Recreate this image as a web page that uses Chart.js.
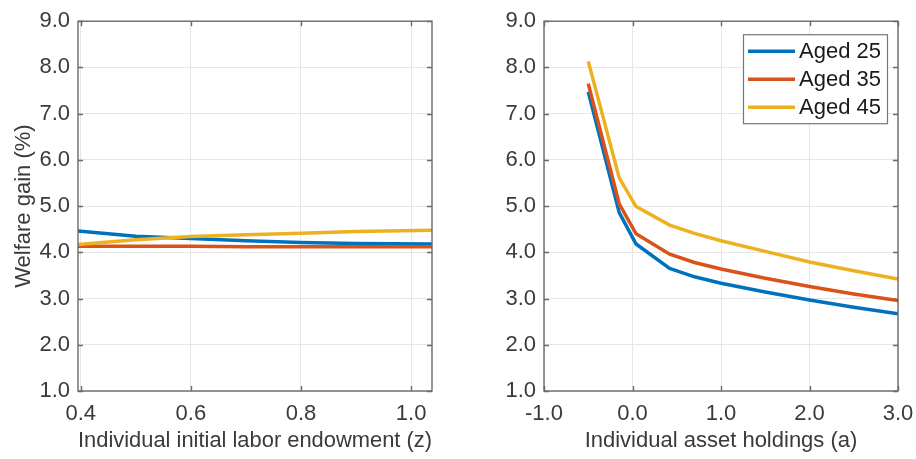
<!DOCTYPE html>
<html>
<head>
<meta charset="utf-8">
<script src="https://cdn.jsdelivr.net/npm/chart.js@4.4.0/dist/chart.umd.min.js"></script>
<style>
  html, body { margin: 0; padding: 0; background: #fff; overflow: hidden; }
  #wrap { position: relative; width: 916px; height: 459px; }
  .panel { position: absolute; top: 0; width: 458px; height: 459px; }
</style>
</head>
<body>
<div id="wrap">
  <div class="panel" style="left:0"><canvas id="leftChart"></canvas></div>
  <div class="panel" style="left:458px"><canvas id="rightChart"></canvas></div>
</div>
<script>
/* ----------------------------------------------------------
   DATA
---------------------------------------------------------- */
const seriesLabels = ["Aged 25", "Aged 35", "Aged 45"];

// left panel: welfare gain vs initial labor endowment (z)
const laborZ      = [0.395, 0.5, 0.6, 0.7, 0.8, 0.9, 1.038];
const laborAged25 = [4.46, 4.35, 4.30, 4.25, 4.21, 4.19, 4.18];
const laborAged35 = [4.13, 4.13, 4.13, 4.12, 4.12, 4.12, 4.12];
const laborAged45 = [4.17, 4.27, 4.34, 4.38, 4.41, 4.45, 4.48];

// right panel: welfare gain vs asset holdings (a)
const assetA      = [-0.5, -0.15, 0.04, 0.42, 0.7, 1.0, 1.5, 2.0, 2.5, 3.0];
const assetAged25 = [7.47, 4.86, 4.18, 3.65, 3.47, 3.33, 3.14, 2.97, 2.81, 2.67];
const assetAged35 = [7.65, 5.05, 4.40, 3.96, 3.78, 3.64, 3.44, 3.26, 3.10, 2.96];
const assetAged45 = [8.13, 5.61, 4.99, 4.59, 4.41, 4.25, 4.02, 3.79, 3.60, 3.42];

// ticks
const yTicks      = [1, 2, 3, 4, 5, 6, 7, 8, 9];
const leftXTicks  = [0.4, 0.6, 0.8, 1.0];
const rightXTicks = [-1, 0, 1, 2, 3];

/* ----------------------------------------------------------
   STYLE
---------------------------------------------------------- */
const seriesColors = ["#0072BD", "#D95319", "#EDB120"];
const FONT = "'Liberation Sans', Arial, Helvetica, sans-serif";
const FSIZE = 22;
const TEXT = "#3a3a3a";
const GRID = "#e6e6e6";
const AXIS = "#6a6a6a";

/* ----------------------------------------------------------
   PLUGINS: matlab-like box with inner ticks, boxed legend
---------------------------------------------------------- */
const boxPlugin = {
  id: "matlabBox",
  afterDatasetsDraw(chart) {
    const { ctx, chartArea: a, scales: { x, y } } = chart;
    ctx.save();
    ctx.strokeStyle = AXIS;
    ctx.lineWidth = 1.4;
    ctx.strokeRect(a.left, a.top, a.right - a.left, a.bottom - a.top);
    ctx.beginPath();
    x.ticks.forEach(t => {
      const px = Math.round(x.getPixelForValue(t.value)) + 0.5;
      ctx.moveTo(px, a.bottom); ctx.lineTo(px, a.bottom - 5);
      ctx.moveTo(px, a.top);    ctx.lineTo(px, a.top + 5);
    });
    y.ticks.forEach(t => {
      const py = Math.round(y.getPixelForValue(t.value)) + 0.5;
      ctx.moveTo(a.left, py);  ctx.lineTo(a.left + 5, py);
      ctx.moveTo(a.right, py); ctx.lineTo(a.right - 5, py);
    });
    ctx.stroke();
    ctx.restore();
  }
};

const boxLegend = {
  id: "boxLegend",
  afterDraw(chart, args, opts) {
    if (!opts.show) return;
    const { ctx, chartArea: a } = chart;
    const w = 144, h = 89;
    const bx = a.right - 11 - w, by = a.top + 13;
    ctx.save();
    ctx.fillStyle = "#fff";
    ctx.fillRect(bx, by, w, h);
    ctx.strokeStyle = "#777";
    ctx.lineWidth = 1.2;
    ctx.strokeRect(bx + 0.5, by + 0.5, w, h);
    ctx.font = FSIZE + "px " + FONT;
    ctx.textBaseline = "middle";
    ctx.fillStyle = "#1a1a1a";
    chart.data.datasets.forEach((ds, i) => {
      const ly = by + 17 + i * 28;
      ctx.strokeStyle = ds.borderColor;
      ctx.lineWidth = 3.5;
      ctx.beginPath();
      ctx.moveTo(bx + 5, ly); ctx.lineTo(bx + 52, ly);
      ctx.stroke();
      ctx.fillText(ds.label, bx + 56, ly + 1);
    });
    ctx.restore();
  }
};

/* ----------------------------------------------------------
   CHART BUILDER
---------------------------------------------------------- */
function buildChart(canvasId, xs, series, xMin, xMax, xTicks, cfg) {
  const datasets = series.map((vals, i) => ({
    label: seriesLabels[i],
    data: xs.map((xv, k) => ({ x: xv, y: vals[k] })),
    borderColor: seriesColors[i],
    borderWidth: 3.5,
    pointRadius: 0,
    tension: 0,
    order: series.length - i
  }));

  return new Chart(document.getElementById(canvasId), {
    type: "line",
    data: { datasets },
    options: {
      responsive: true,
      maintainAspectRatio: false,
      animation: false,
      devicePixelRatio: 1,
      layout: { padding: cfg.padding },
      plugins: {
        legend: { display: false },
        tooltip: { enabled: false },
        boxLegend: { show: cfg.legend }
      },
      scales: {
        x: {
          type: "linear",
          min: xMin,
          max: xMax,
          afterBuildTicks: s => { s.ticks = xTicks.map(v => ({ value: v })); },
          afterFit: s => { s.height = 68; s.paddingLeft = 0; s.paddingRight = 0; },
          grid: { color: GRID, lineWidth: 1, drawTicks: false },
          border: { display: false },
          ticks: {
            color: TEXT, padding: 10,
            font: { family: FONT, size: FSIZE },
            callback: v => Number(v).toFixed(1)
          },
          title: {
            display: true, text: cfg.xTitle, color: TEXT,
            font: { family: FONT, size: FSIZE },
            padding: { top: 0, bottom: 5 }
          }
        },
        y: {
          min: 1,
          max: 9,
          afterBuildTicks: s => { s.ticks = yTicks.map(v => ({ value: v })); },
          afterFit: s => { s.width = cfg.yWidth; },
          grid: { color: GRID, lineWidth: 1, drawTicks: false },
          border: { display: false },
          ticks: {
            color: TEXT, padding: 8,
            font: { family: FONT, size: FSIZE },
            callback: v => Number(v).toFixed(1)
          },
          title: {
            display: !!cfg.yTitle, text: cfg.yTitle || "", color: TEXT,
            font: { family: FONT, size: FSIZE },
            padding: { top: 11, bottom: 0 }
          }
        }
      }
    },
    plugins: [boxPlugin, boxLegend]
  });
}

buildChart("leftChart", laborZ, [laborAged25, laborAged35, laborAged45],
  laborZ[0], laborZ[laborZ.length - 1], leftXTicks, {
    padding: { left: 0, right: 26, top: 19, bottom: 0 },
    yWidth: 78,
    xTitle: "Individual initial labor endowment (z)",
    yTitle: "Welfare gain (%)",
    legend: false
  });

buildChart("rightChart", assetA, [assetAged25, assetAged35, assetAged45],
  -1, 3, rightXTicks, {
    padding: { left: 0, right: 18, top: 19, bottom: 0 },
    yWidth: 86,
    xTitle: "Individual asset holdings (a)",
    legend: true
  });
</script>
</body>
</html>
